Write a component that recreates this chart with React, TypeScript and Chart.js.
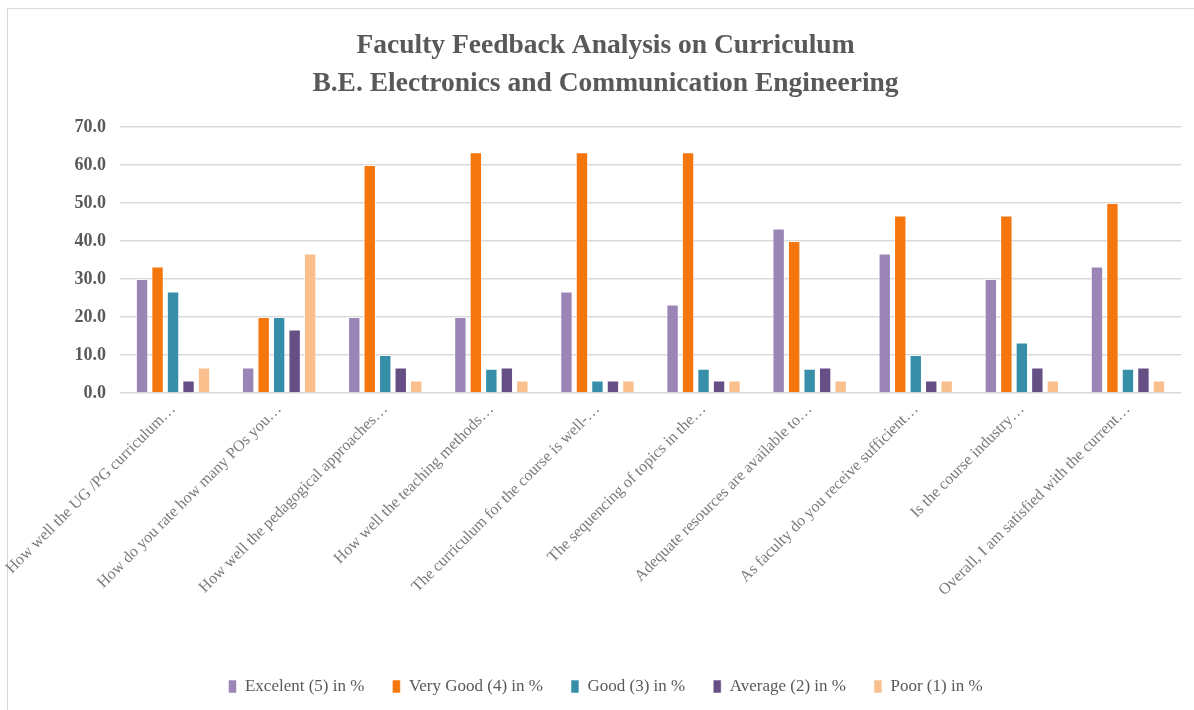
import React, { useEffect, useRef } from "react";
import { Chart, registerables } from "chart.js";

Chart.register(...registerables);

const categories = [
  "How well the UG /PG curriculum…",
  "How do you rate how many POs you…",
  "How well the pedagogical approaches…",
  "How well the teaching methods…",
  "The curriculum for the course is well-…",
  "The sequencing of topics in the…",
  "Adequate resources are available to…",
  "As faculty do you receive sufficient…",
  "Is the course industry…",
  "Overall, I am satisfied with the current…",
];

const seriesNames = [
  "Excelent (5) in %",
  "Very Good (4) in %",
  "Good (3) in %",
  "Average (2) in %",
  "Poor (1) in %",
];

const excellent = [30.0, 6.7, 20.0, 20.0, 26.7, 23.3, 43.3, 36.7, 30.0, 33.3];
const veryGood = [33.3, 20.0, 60.0, 63.3, 63.3, 63.3, 40.0, 46.7, 46.7, 50.0];
const good = [26.7, 20.0, 10.0, 6.4, 3.3, 6.4, 6.4, 10.0, 13.3, 6.4];
const average = [3.3, 16.7, 6.7, 6.7, 3.3, 3.3, 6.7, 3.3, 6.7, 6.7];
const poor = [6.7, 36.7, 3.3, 3.3, 3.3, 3.3, 3.3, 3.3, 3.3, 3.3];

const colors = ["#9B85B7", "#F5760C", "#368EA8", "#654F84", "#F9C08E"];

const titleLines = [
  "Faculty Feedback Analysis on Curriculum",
  "B.E. Electronics and Communication Engineering",
];

export default function App() {
  const ref = useRef<HTMLCanvasElement | null>(null);

  useEffect(() => {
    if (!ref.current) return;
    const values = [excellent, veryGood, good, average, poor];
    const serif = "'Liberation Serif', 'DejaVu Serif', serif";
    const chart = new Chart(ref.current, {
      type: "bar",
      data: {
        labels: categories,
        datasets: values.map((v, i) => ({
          label: seriesNames[i],
          data: v,
          backgroundColor: colors[i],
          borderColor: "rgba(255,255,255,0.55)",
          borderWidth: 1,
          categoryPercentage: 0.73,
          barPercentage: 0.8,
        })),
      },
      options: {
        responsive: false,
        animation: false,
        layout: { padding: { left: 30, right: 13, top: 0, bottom: 5 } },
        plugins: {
          title: {
            display: true,
            text: titleLines,
            color: "#595959",
            font: { family: serif, size: 27.5, weight: "bold", lineHeight: 1.38 },
            padding: { top: 27, bottom: 24 },
          },
          legend: {
            position: "bottom",
            labels: {
              boxWidth: 8,
              boxHeight: 13,
              color: "#595959",
              padding: 28,
              font: { family: serif, size: 17 },
            },
          },
          tooltip: { enabled: false },
        },
        scales: {
          x: {
            grid: { display: false, drawTicks: false },
            border: { display: false },
            ticks: {
              autoSkip: false,
              minRotation: 45,
              maxRotation: 45,
              color: "#7a7a7a",
              padding: 7,
              font: { family: serif, size: 16 },
            },
            afterFit: (scale: any) => {
              scale.height = 257;
              scale.paddingLeft = 0;
              scale.paddingRight = 0;
            },
          },
          y: {
            min: 0,
            max: 70,
            grid: { color: "#d9d9d9", lineWidth: 1.5, drawTicks: false },
            border: { display: false },
            ticks: {
              stepSize: 10,
              padding: 14,
              color: "#595959",
              font: { family: serif, size: 18, weight: "bold" },
              callback: (v: any) => Number(v).toFixed(1),
            },
            afterFit: (scale: any) => {
              scale.width = 90;
            },
          },
        },
      },
    });
    return () => chart.destroy();
  }, []);

  return (
    <div style={{ position: "absolute", left: 0, top: 0, width: 1194, height: 710, background: "#fff" }}>
      <div
        style={{
          position: "absolute",
          left: 7,
          top: 8,
          width: 1200,
          height: 720,
          borderLeft: "1.5px solid #d9d9d9",
          borderTop: "1.5px solid #d9d9d9",
        }}
      />
      <canvas ref={ref} width={1194} height={710} style={{ position: "absolute", left: 0, top: 0 }} />
    </div>
  );
}
